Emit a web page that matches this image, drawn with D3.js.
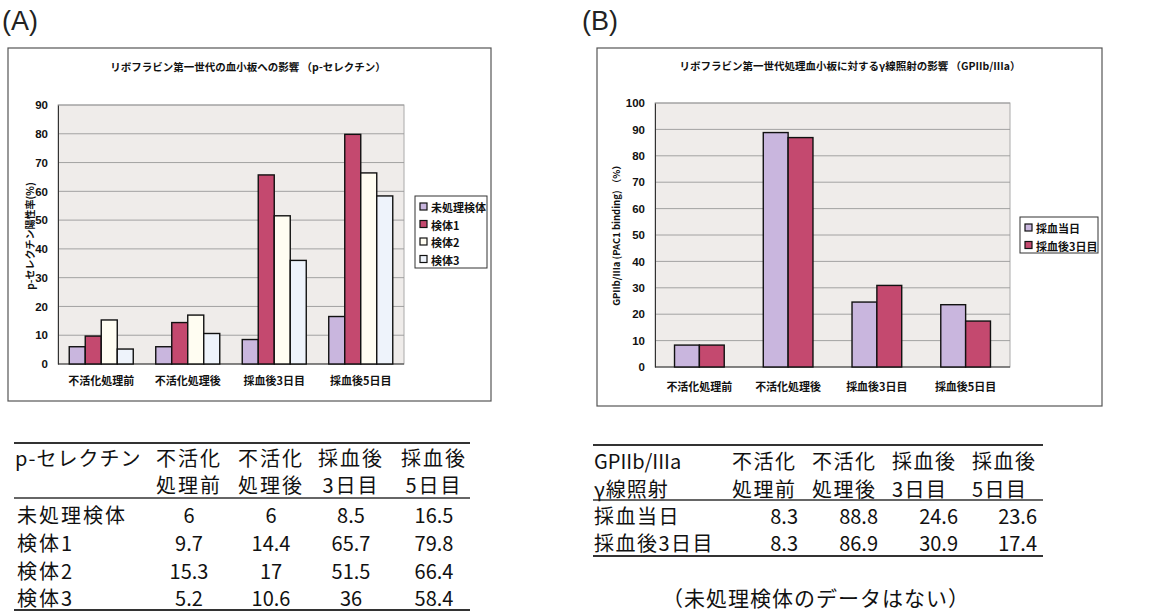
<!DOCTYPE html>
<html><head><meta charset="utf-8">
<script src="https://cdn.jsdelivr.net/npm/d3@7/dist/d3.min.js"></script>
<style>
html,body{margin:0;padding:0;background:#fff;}
svg{display:block;}
</style></head>
<body>
<svg id="c" width="1162" height="611"></svg>
<script>
const categories = ['不活化処理前','不活化処理後','採血後3日目','採血後5日目'];
const seriesA = ['未処理検体','検体1','検体2','検体3'];
const valuesA = [
  [6, 6, 8.5, 16.5],
  [9.7, 14.4, 65.7, 79.8],
  [15.3, 17, 51.5, 66.4],
  [5.2, 10.6, 36, 58.4]
];
const ticksA = [0,10,20,30,40,50,60,70,80,90];
const seriesB = ['採血当日','採血後3日目'];
const valuesB = [
  [8.3, 88.8, 24.6, 23.6],
  [8.3, 86.9, 30.9, 17.4]
];
const ticksB = [0,10,20,30,40,50,60,70,80,90,100];
const tableAHeader1 = ['p-セレクチン','不活化','不活化','採血後','採血後'];
const tableAHeader2 = ['','処理前','処理後','3日目','5日目'];
const tableBHeader1 = ['GPIIb/IIIa','不活化','不活化','採血後','採血後'];
const tableBHeader2 = ['γ線照射','処理前','処理後','3日目','5日目'];

const colorsA = ['#c9b6de','#c4496f','#fffdf2','#eef3fb'];
const colorsB = ['#c9b6de','#c4496f'];

const svg = d3.select('#c');
const FONT = '"Noto Sans CJK JP","Noto Sans",sans-serif';
const LAT = '"Liberation Sans",Arial,sans-serif';

svg.append('text').attr('x',2).attr('y',30).attr('font-family',LAT)
  .attr('font-size',27).attr('fill','#222').text('(A)');
svg.append('text').attr('x',582).attr('y',30).attr('font-family',LAT)
  .attr('font-size',27).attr('fill','#222').text('(B)');

function drawChart(cfg){
  const g = svg.append('g');
  g.append('rect').attr('x',cfg.box[0]).attr('y',cfg.box[1]).attr('width',cfg.box[2]-cfg.box[0]).attr('height',cfg.box[3]-cfg.box[1])
    .attr('fill','#fff').attr('stroke','#555').attr('stroke-width',1.2);
  g.append('text').attr('x',cfg.titleX).attr('y',cfg.titleY).attr('text-anchor','middle').attr('dominant-baseline','central')
    .attr('font-family',FONT).attr('font-weight','bold').attr('font-size',10.5).attr('fill','#111').text(cfg.title);
  const [x0,x1,y0,y1] = cfg.plot;
  const y = d3.scaleLinear().domain([0,cfg.max]).range([y1,y0]);
  const x = d3.scaleBand().domain(categories).range([x0,x1]).paddingInner(cfg.pin).paddingOuter(cfg.pout);
  const xs = d3.scaleBand().domain(d3.range(cfg.series.length)).range([0,x.bandwidth()]);
  g.append('rect').attr('x',x0).attr('y',y0).attr('width',x1-x0).attr('height',y1-y0).attr('fill','#efecea').attr('stroke','#aaa').attr('stroke-width',1);
  g.append('g').selectAll('line').data(cfg.ticks.filter(t=>t>0)).join('line')
    .attr('x1',x0).attr('x2',x1).attr('y1',d=>y(d)).attr('y2',d=>y(d)).attr('stroke','#9a9a9a').attr('stroke-width',0.9);
  const ax = d3.axisLeft(y).tickValues(cfg.ticks).tickSize(0).tickPadding(10);
  const axg = g.append('g').attr('transform',`translate(${x0},0)`).call(ax);
  axg.select('.domain').attr('stroke','#333');
  axg.selectAll('text').attr('font-family',LAT).attr('font-weight','bold').attr('font-size',11.5).attr('fill','#111');
  g.append('line').attr('x1',x0).attr('x2',x1).attr('y1',y1).attr('y2',y1).attr('stroke','#333');
  cfg.series.forEach((s,i)=>{
    g.append('g').selectAll('rect').data(cfg.values[i]).join('rect')
      .attr('x',(d,j)=>x(categories[j])+xs(i)).attr('y',d=>y(d)).attr('width',xs.bandwidth()).attr('height',d=>y1-y(d))
      .attr('fill',cfg.colors[i]).attr('stroke','#111').attr('stroke-width',1.4);
  });
  g.append('g').selectAll('text').data(categories).join('text')
    .attr('x',d=>x(d)+x.bandwidth()/2).attr('y',cfg.xlabY).attr('text-anchor','middle').attr('dominant-baseline','central')
    .attr('font-family',FONT).attr('font-weight','bold').attr('font-size',11).attr('fill','#111').text(d=>d);
  g.append('text').attr('transform',`translate(${cfg.ytX},${cfg.ytY}) rotate(-90)`).attr('text-anchor','middle').attr('dominant-baseline','central')
    .attr('font-family',FONT).attr('font-weight','bold').attr('font-size',cfg.ytSize).attr('fill','#111').text(cfg.ytitle);
  const L = cfg.legend;
  g.append('rect').attr('x',L[0]).attr('y',L[1]).attr('width',L[2]-L[0]).attr('height',L[3]-L[1]).attr('fill','#fff').attr('stroke','#333').attr('stroke-width',1);
  cfg.series.forEach((s,i)=>{
    const yy = L[4] + i*L[5];
    g.append('rect').attr('x',L[0]+5).attr('y',yy-4).attr('width',7).attr('height',7).attr('fill',cfg.colors[i]).attr('stroke','#111').attr('stroke-width',1.2);
    g.append('text').attr('x',L[0]+16).attr('y',yy).attr('dominant-baseline','central')
      .attr('font-family',FONT).attr('font-weight','bold').attr('font-size',11).attr('fill','#111').text(s);
  });
}

drawChart({
  box:[8,48,491,401], title:'リボフラビン第一世代の血小板への影響 （p-セレクチン）', titleX:248, titleY:66,
  plot:[58,404,105,364], max:90, ticks:ticksA, pin:0.26, pout:0.13,
  series:seriesA, values:valuesA, colors:colorsA, xlabY:380,
  ytitle:'p-セレクチン陽性率(%)', ytX:29, ytY:236, ytSize:10,
  legend:[415,196,487,268,207,17.5]
});
drawChart({
  box:[597,48,1102,406], title:'リボフラビン第一世代処理血小板に対するγ線照射の影響 （GPIIb/IIIa）', titleX:850, titleY:65,
  plot:[655,1010,103,367], max:100, ticks:ticksB, pin:0.44, pout:0.22,
  series:seriesB, values:valuesB, colors:colorsB, xlabY:386,
  ytitle:'GPIIb/IIIa (PAC1 binding) （%）', ytX:616, ytY:233, ytSize:9.5,
  legend:[1020,217,1098,253,228,17.5]
});

// Table A
const tA = svg.append('g').attr('font-family',FONT).attr('font-size',20).attr('fill','#111');
[[443,2.2],[498,1.6],[610,2.2]].forEach(([yy,w])=>tA.append('line').attr('x1',14).attr('x2',470).attr('y1',yy).attr('y2',yy).attr('stroke','#333').attr('stroke-width',w));
const colAx = [189,271,351,434];
tA.append('text').attr('x',15).attr('y',457).attr('dominant-baseline','central').attr('letter-spacing',1).text(tableAHeader1[0]);
tableAHeader1.slice(1).forEach((t,i)=>tA.append('text').attr('x',colAx[i]).attr('y',457).attr('text-anchor','middle').attr('dominant-baseline','central').attr('letter-spacing',2).text(t));
tableAHeader2.slice(1).forEach((t,i)=>tA.append('text').attr('x',colAx[i]).attr('y',484).attr('text-anchor','middle').attr('dominant-baseline','central').attr('letter-spacing',2).text(t));
const rowAy = [514,542,570,597];
seriesA.forEach((s,i)=>{
  tA.append('text').attr('x',17).attr('y',rowAy[i]).attr('dominant-baseline','central').attr('letter-spacing',2).text(s);
  valuesA[i].forEach((v,j)=>tA.append('text').attr('x',colAx[j]).attr('y',rowAy[i]).attr('text-anchor','middle').attr('dominant-baseline','central').text(String(v)));
});

// Table B
const tB = svg.append('g').attr('font-family',FONT).attr('font-size',20).attr('fill','#111');
[[445,2.2],[500,1.6],[556,2.2]].forEach(([yy,w])=>tB.append('line').attr('x1',593).attr('x2',1043).attr('y1',yy).attr('y2',yy).attr('stroke','#333').attr('stroke-width',w));
const colBl = [732,812,892,972];
const colBr = [798,878,958,1037];
tB.append('text').attr('x',594).attr('y',460).attr('dominant-baseline','central').text(tableBHeader1[0]);
tB.append('text').attr('x',594).attr('y',488).attr('dominant-baseline','central').attr('letter-spacing',1).text(tableBHeader2[0]);
tableBHeader1.slice(1).forEach((t,i)=>tB.append('text').attr('x',colBl[i]).attr('y',460).attr('dominant-baseline','central').attr('letter-spacing',1.5).text(t));
tableBHeader2.slice(1).forEach((t,i)=>tB.append('text').attr('x',colBl[i]).attr('y',488).attr('dominant-baseline','central').attr('letter-spacing',1.5).text(t));
const rowBy = [515,542];
seriesB.forEach((s,i)=>{
  tB.append('text').attr('x',594).attr('y',rowBy[i]).attr('dominant-baseline','central').attr('letter-spacing',1.5).text(s);
  valuesB[i].forEach((v,j)=>tB.append('text').attr('x',colBr[j]).attr('y',rowBy[i]).attr('text-anchor','end').attr('dominant-baseline','central').text(String(v)));
});
tB.append('text').attr('x',816).attr('y',597).attr('text-anchor','middle').attr('dominant-baseline','central').attr('font-size',21).attr('letter-spacing',1).text('（未処理検体のデータはない）');
</script>
</body></html>
